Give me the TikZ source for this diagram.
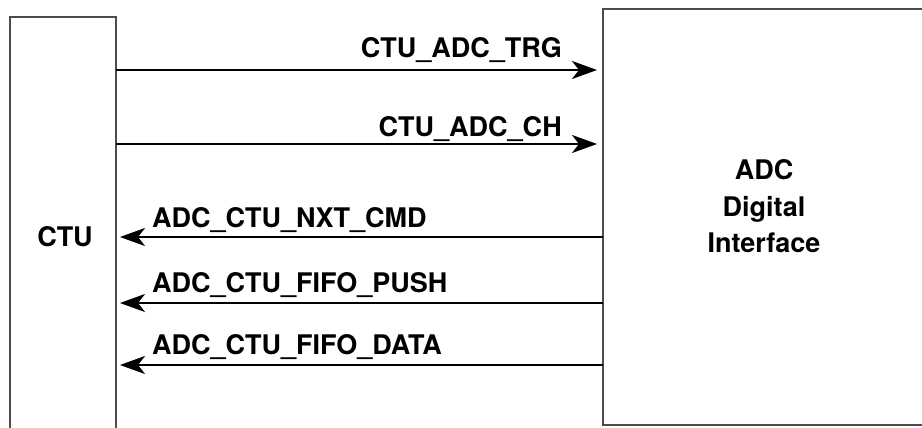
\documentclass[tikz,border=0pt]{standalone}
\usepackage{fontspec}
\setmainfont{TeX Gyre Heros}
\usetikzlibrary{arrows.meta}
\tikzstyle{block} = [rectangle, draw=black!70, line width=2pt, outer sep=0pt, inner sep=0pt]
\tikzstyle{signal} = [line width=2pt, -{Stealth[length=25pt, width=18pt, inset=7pt]}]
\tikzstyle{sigtext} = [font=\fontsize{27}{32}\selectfont\bfseries, inner sep=0pt]

\begin{document}
\begin{tikzpicture}[x=1pt, y=-1pt]
		\useasboundingbox (0,0) rectangle (922,428);
		\clip (0,0) rectangle (922,428);
		\node (ctu) [block, minimum width=106pt, minimum height=450pt, anchor=north west] at (10,17.5) {};
		\node (adc) [block, minimum width=400pt, minimum height=415.5pt, anchor=north west] at (603,9) {};
		\node (ctulabel) [sigtext] at (65,237) {CTU};
		\node (adclabel) [sigtext, align=center, font=\fontsize{27}{36.5}\selectfont\bfseries] at (764,206.5) {ADC\\Digital\\Interface};

		\coordinate (trg) at (0,70);
		\coordinate (ch) at (0,144);
		\coordinate (nxt) at (0,237);
		\coordinate (push) at (0,303);
		\coordinate (data) at (0,365);

		\draw [signal, shorten >=6pt] (ctu.east |- trg) -- (adc.west |- trg);
		\draw [signal, shorten >=6pt] (ctu.east |- ch) -- (adc.west |- ch);
		\draw [signal, shorten >=4pt] (adc.west |- nxt) -- (ctu.east |- nxt);
		\draw [signal, shorten >=4pt] (adc.west |- push) -- (ctu.east |- push);
		\draw [signal, shorten >=4pt] (adc.west |- data) -- (ctu.east |- data);

		\node (ltrg) [sigtext, anchor=base east] at (562,58) {CTU\_ADC\_TRG};
		\node (lch) [sigtext, anchor=base east] at (562,136) {CTU\_ADC\_CH};
		\node (lnxt) [sigtext, anchor=base west] at (152,227) {ADC\_CTU\_NXT\_CMD};
		\node (lpush) [sigtext, anchor=base west] at (152,292) {ADC\_CTU\_FIFO\_PUSH};
		\node (ldata) [sigtext, anchor=base west] at (152,354) {ADC\_CTU\_FIFO\_DATA};
	\end{tikzpicture}
\end{document}
